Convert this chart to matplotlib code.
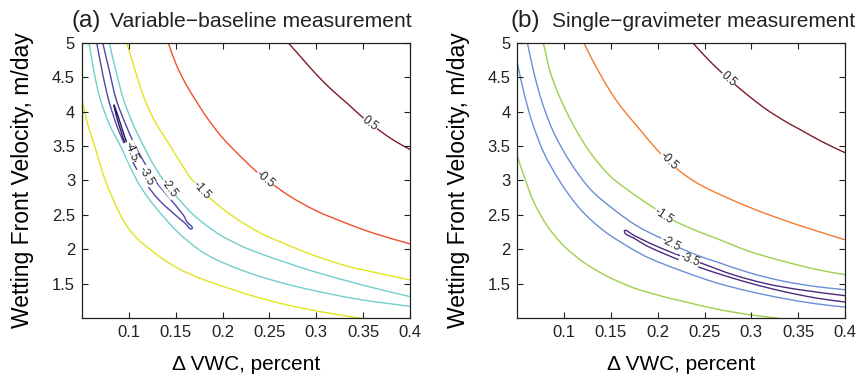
import numpy as np
import matplotlib.pyplot as plt
from matplotlib.path import Path
from matplotlib.patches import PathPatch

plt.rcParams['font.family'] = ['Liberation Sans', 'DejaVu Sans']

# ---- panel (a): variable-baseline, contour lines ----
a_p05_x = [0.270, 0.285, 0.300, 0.317, 0.333, 0.350, 0.367, 0.383, 0.400]
a_p05_y = [5.00, 4.77, 4.54, 4.31, 4.12, 3.91, 3.73, 3.58, 3.45]

a_m05_x = [0.142, 0.150, 0.160, 0.171, 0.185, 0.198, 0.211, 0.236, 0.248, 0.272, 0.300, 0.330, 0.360, 0.400]
a_m05_y = [5.00, 4.70, 4.42, 4.17, 3.88, 3.65, 3.46, 3.13, 3.00, 2.77, 2.56, 2.39, 2.24, 2.08]

a_m15u_x = [0.0977, 0.1066, 0.117, 0.129, 0.1442, 0.156, 0.168, 0.187, 0.210, 0.240, 0.272, 0.300, 0.335, 0.370, 0.400]
a_m15u_y = [5.00, 4.60, 4.17, 3.83, 3.50, 3.24, 3.00, 2.74, 2.49, 2.24, 2.05, 1.90, 1.75, 1.645, 1.556]

a_m15l_x = [0.050, 0.056, 0.0635, 0.0749, 0.0909, 0.101, 0.1118, 0.1228, 0.1353, 0.1545, 0.180, 0.210, 0.236, 0.270, 0.311, 0.348]
a_m15l_y = [4.17, 3.82, 3.50, 3.00, 2.50, 2.28, 2.12, 2.00, 1.87, 1.71, 1.56, 1.42, 1.31, 1.19, 1.08, 1.00]

a_m25u_x = [0.0791, 0.086, 0.0944, 0.105, 0.1157, 0.125, 0.137, 0.152, 0.169, 0.195, 0.220, 0.240, 0.272, 0.297, 0.350, 0.400]
a_m25u_y = [5.00, 4.60, 4.17, 3.80, 3.50, 3.26, 3.00, 2.75, 2.50, 2.23, 2.05, 1.94, 1.79, 1.68, 1.48, 1.314]

a_m25l_x = [0.0575, 0.0625, 0.069, 0.079, 0.091, 0.1086, 0.121, 0.1353, 0.153, 0.1744, 0.192, 0.218, 0.250, 0.290, 0.343, 0.400]
a_m25l_y = [5.00, 4.60, 4.20, 3.82, 3.50, 3.00, 2.74, 2.50, 2.24, 2.00, 1.86, 1.71, 1.565, 1.425, 1.28, 1.173]

a_m35_x = [0.0657, 0.072, 0.0784, 0.087, 0.0962, 0.1057, 0.1157, 0.132, 0.1495, 0.160, 0.1672,
           0.162, 0.158, 0.143, 0.128, 0.117, 0.1068, 0.097, 0.0866, 0.079, 0.0721]
a_m35_y = [5.00, 4.55, 4.17, 3.80, 3.50, 3.23, 3.00, 2.72, 2.50, 2.38, 2.30,
           2.40, 2.50, 2.75, 3.00, 3.25, 3.50, 3.80, 4.17, 4.60, 5.00]

a_m45_x = [0.0838, 0.087, 0.0915, 0.0965, 0.102, 0.1068, 0.1035, 0.0985, 0.0935, 0.0888, 0.085, 0.0838]
a_m45_y = [4.10, 3.92, 3.72, 3.52, 3.36, 3.278, 3.36, 3.52, 3.72, 3.92, 4.07, 4.10]

a_lab_x = [0.357, 0.2455, 0.178, 0.1431, 0.1185, 0.1025]
a_lab_y = [3.82, 3.02, 2.86, 2.89, 3.06, 3.42]
a_lab_t = ['0.5', '-0.5', '-1.5', '-2.5', '-3.5', '-4.5']
a_lab_r = [-37, -40, -47, -53, -60, -69]

# ---- panel (b): single gravimeter ----
b_p05_x = [0.2373, 0.255, 0.2753, 0.296, 0.3163, 0.336, 0.352, 0.376, 0.400]
b_p05_y = [5.00, 4.74, 4.48, 4.24, 4.03, 3.86, 3.74, 3.56, 3.404]

b_m05_x = [0.121, 0.1317, 0.1459, 0.1601, 0.1779, 0.1957, 0.2117, 0.230, 0.245, 0.2626, 0.2981, 0.3336, 0.3692, 0.400]
b_m05_y = [5.00, 4.71, 4.37, 4.08, 3.79, 3.50, 3.27, 3.07, 2.94, 2.82, 2.61, 2.43, 2.27, 2.14]

b_m15u_x = [0.0777, 0.0855, 0.0962, 0.1104, 0.1282, 0.1495, 0.1744, 0.1939, 0.2075, 0.2182, 0.245, 0.2626, 0.2981, 0.3336, 0.3692, 0.400]
b_m15u_y = [5.00, 4.56, 4.18, 3.79, 3.40, 3.06, 2.80, 2.62, 2.50, 2.41, 2.25, 2.16, 1.97, 1.83, 1.71, 1.633]

b_m15l_x = [0.050, 0.0571, 0.0678, 0.082, 0.0997, 0.1211, 0.1459, 0.1744, 0.1915, 0.210, 0.227, 0.2626, 0.2981, 0.330]
b_m15l_y = [3.355, 3.065, 2.68, 2.34, 2.05, 1.81, 1.61, 1.44, 1.37, 1.30, 1.246, 1.134, 1.052, 1.00]

b_m25u_x = [0.0607, 0.0678, 0.0766, 0.0891, 0.1068, 0.1282, 0.153, 0.1779, 0.1992, 0.2128, 0.2253, 0.245, 0.2626, 0.2981, 0.3336, 0.3692, 0.400]
b_m25u_y = [5.00, 4.56, 4.13, 3.69, 3.26, 2.87, 2.58, 2.34, 2.19, 2.10, 2.01, 1.90, 1.82, 1.66, 1.54, 1.46, 1.415]

b_m25l_x = [0.050, 0.0571, 0.066, 0.0784, 0.0962, 0.1175, 0.1424, 0.1708, 0.1915, 0.227, 0.2626, 0.2981, 0.3336, 0.3692, 0.400]
b_m25l_y = [4.71, 4.27, 3.84, 3.40, 2.97, 2.58, 2.27, 2.02, 1.87, 1.68, 1.515, 1.39, 1.29, 1.21, 1.163]

b_m35_x = [0.400, 0.3514, 0.3159, 0.2803, 0.2466, 0.2341, 0.2164, 0.1915, 0.175, 0.1644,
           0.175, 0.1915, 0.227, 0.2626, 0.2981, 0.3336, 0.3692, 0.400]
b_m35_y = [1.328, 1.415, 1.502, 1.633, 1.80, 1.86, 1.947, 2.09, 2.20, 2.262,
           2.16, 2.03, 1.826, 1.657, 1.512, 1.391, 1.294, 1.236]

b_lab_x = [0.2753, 0.2115, 0.2063, 0.2135, 0.2341]
b_lab_y = [4.47, 3.28, 2.49, 2.08, 1.85]
b_lab_t = ['0.5', '-0.5', '-1.5', '-2.5', '-3.5']
b_lab_r = [-42, -45, -33, -27, -21]

xticks = [0.1, 0.15, 0.2, 0.25, 0.3, 0.35, 0.4]
xtick_labels = ['0.1', '0.15', '0.2', '0.25', '0.3', '0.35', '0.4']
yticks = [1.5, 2, 2.5, 3, 3.5, 4, 4.5, 5]
ytick_labels = ['1.5', '2', '2.5', '3', '3.5', '4', '4.5', '5']

a_lines = [
    (a_p05_x, a_p05_y, '#7e1c26'),
    (a_m05_x, a_m05_y, '#f0502c'),
    (a_m15u_x, a_m15u_y, '#e3e320'),
    (a_m15l_x, a_m15l_y, '#e3e320'),
    (a_m25u_x, a_m25u_y, '#70cfcb'),
    (a_m25l_x, a_m25l_y, '#70cfcb'),
    (a_m35_x, a_m35_y, '#4d48a6'),
    (a_m45_x, a_m45_y, '#2b1a66'),
]
b_lines = [
    (b_p05_x, b_p05_y, '#7e1c2a'),
    (b_m05_x, b_m05_y, '#f07d30'),
    (b_m15u_x, b_m15u_y, '#9dd04c'),
    (b_m15l_x, b_m15l_y, '#9dd04c'),
    (b_m25u_x, b_m25u_y, '#6a8fd6'),
    (b_m25l_x, b_m25l_y, '#6a8fd6'),
    (b_m35_x, b_m35_y, '#4c2a80'),
]


def smooth_path(xs, ys, sx=937.9, sy=68.9):
    # bezier through the read points, tangents taken in screen proportions
    p = np.column_stack([np.asarray(xs) * sx, np.asarray(ys) * sy])
    n = len(p)
    verts = [p[0]]
    codes = [Path.MOVETO]
    tang = []
    for i in range(n):
        d = p[min(i + 1, n - 1)] - p[max(i - 1, 0)]
        tang.append(d / np.hypot(*d))
    for i in range(n - 1):
        L = np.hypot(*(p[i + 1] - p[i]))
        verts += [p[i] + tang[i] * L / 3, p[i + 1] - tang[i + 1] * L / 3, p[i + 1]]
        codes += [Path.CURVE4] * 3
    verts = np.array(verts) / [sx, sy]
    return Path(verts, codes)


def panel(ax, lines, lx, ly, lt, lr):
    for xs, ys, col in lines:
        ax.add_patch(PathPatch(smooth_path(xs, ys), fill=False, edgecolor=col, lw=1.0))
    for x, y, t, r in zip(lx, ly, lt, lr):
        ax.text(x, y, t, rotation=r, ha='center', va='center', fontsize=8.5,
                color='#222222', rotation_mode='anchor',
                bbox=dict(fc='white', ec='none', pad=0.2))
    ax.set_xlim(0.05, 0.4)
    ax.set_ylim(1, 5)
    ax.set_xticks(xticks)
    ax.set_xticklabels(xtick_labels)
    ax.set_yticks(yticks)
    ax.set_yticklabels(ytick_labels)
    ax.tick_params(direction='in', top=True, right=True, length=4, width=0.8,
                   labelsize=12, pad=5, colors='#222222')
    for s in ax.spines.values():
        s.set_linewidth(0.9)
        s.set_color('#222222')
    ax.set_xlabel('Δ VWC, percent', fontsize=15)
    ax.xaxis.label.set_va('center')
    ax.xaxis.set_label_coords(0.5, -0.167)
    ax.set_ylabel('Wetting Front Velocity, m/day', fontsize=16.5)
    ax.yaxis.label.set_va('center')
    ax.yaxis.set_label_coords(-0.18, 0.5)


fig = plt.figure(figsize=(8.67, 3.79), dpi=100)
ax1 = fig.add_axes([0.0946, 0.1602, 0.3783, 0.7271])
ax2 = fig.add_axes([0.5967, 0.1602, 0.3779, 0.7271])
panel(ax1, a_lines, a_lab_x, a_lab_y, a_lab_t, a_lab_r)
panel(ax2, b_lines, b_lab_x, b_lab_y, b_lab_t, b_lab_r)

fig.text(0.083, 0.929, '(a)', fontsize=17.5, ha='left', va='baseline', color='#222222')
fig.text(0.127, 0.929, 'Variable\u2212baseline measurement', fontsize=15.2, ha='left', va='baseline', color='#222222')
fig.text(0.589, 0.929, '(b)', fontsize=17.5, ha='left', va='baseline', color='#222222')
fig.text(0.637, 0.929, 'Single\u2212gravimeter measurement', fontsize=15, ha='left', va='baseline', color='#222222')

fig.savefig('out.png', dpi=100)
